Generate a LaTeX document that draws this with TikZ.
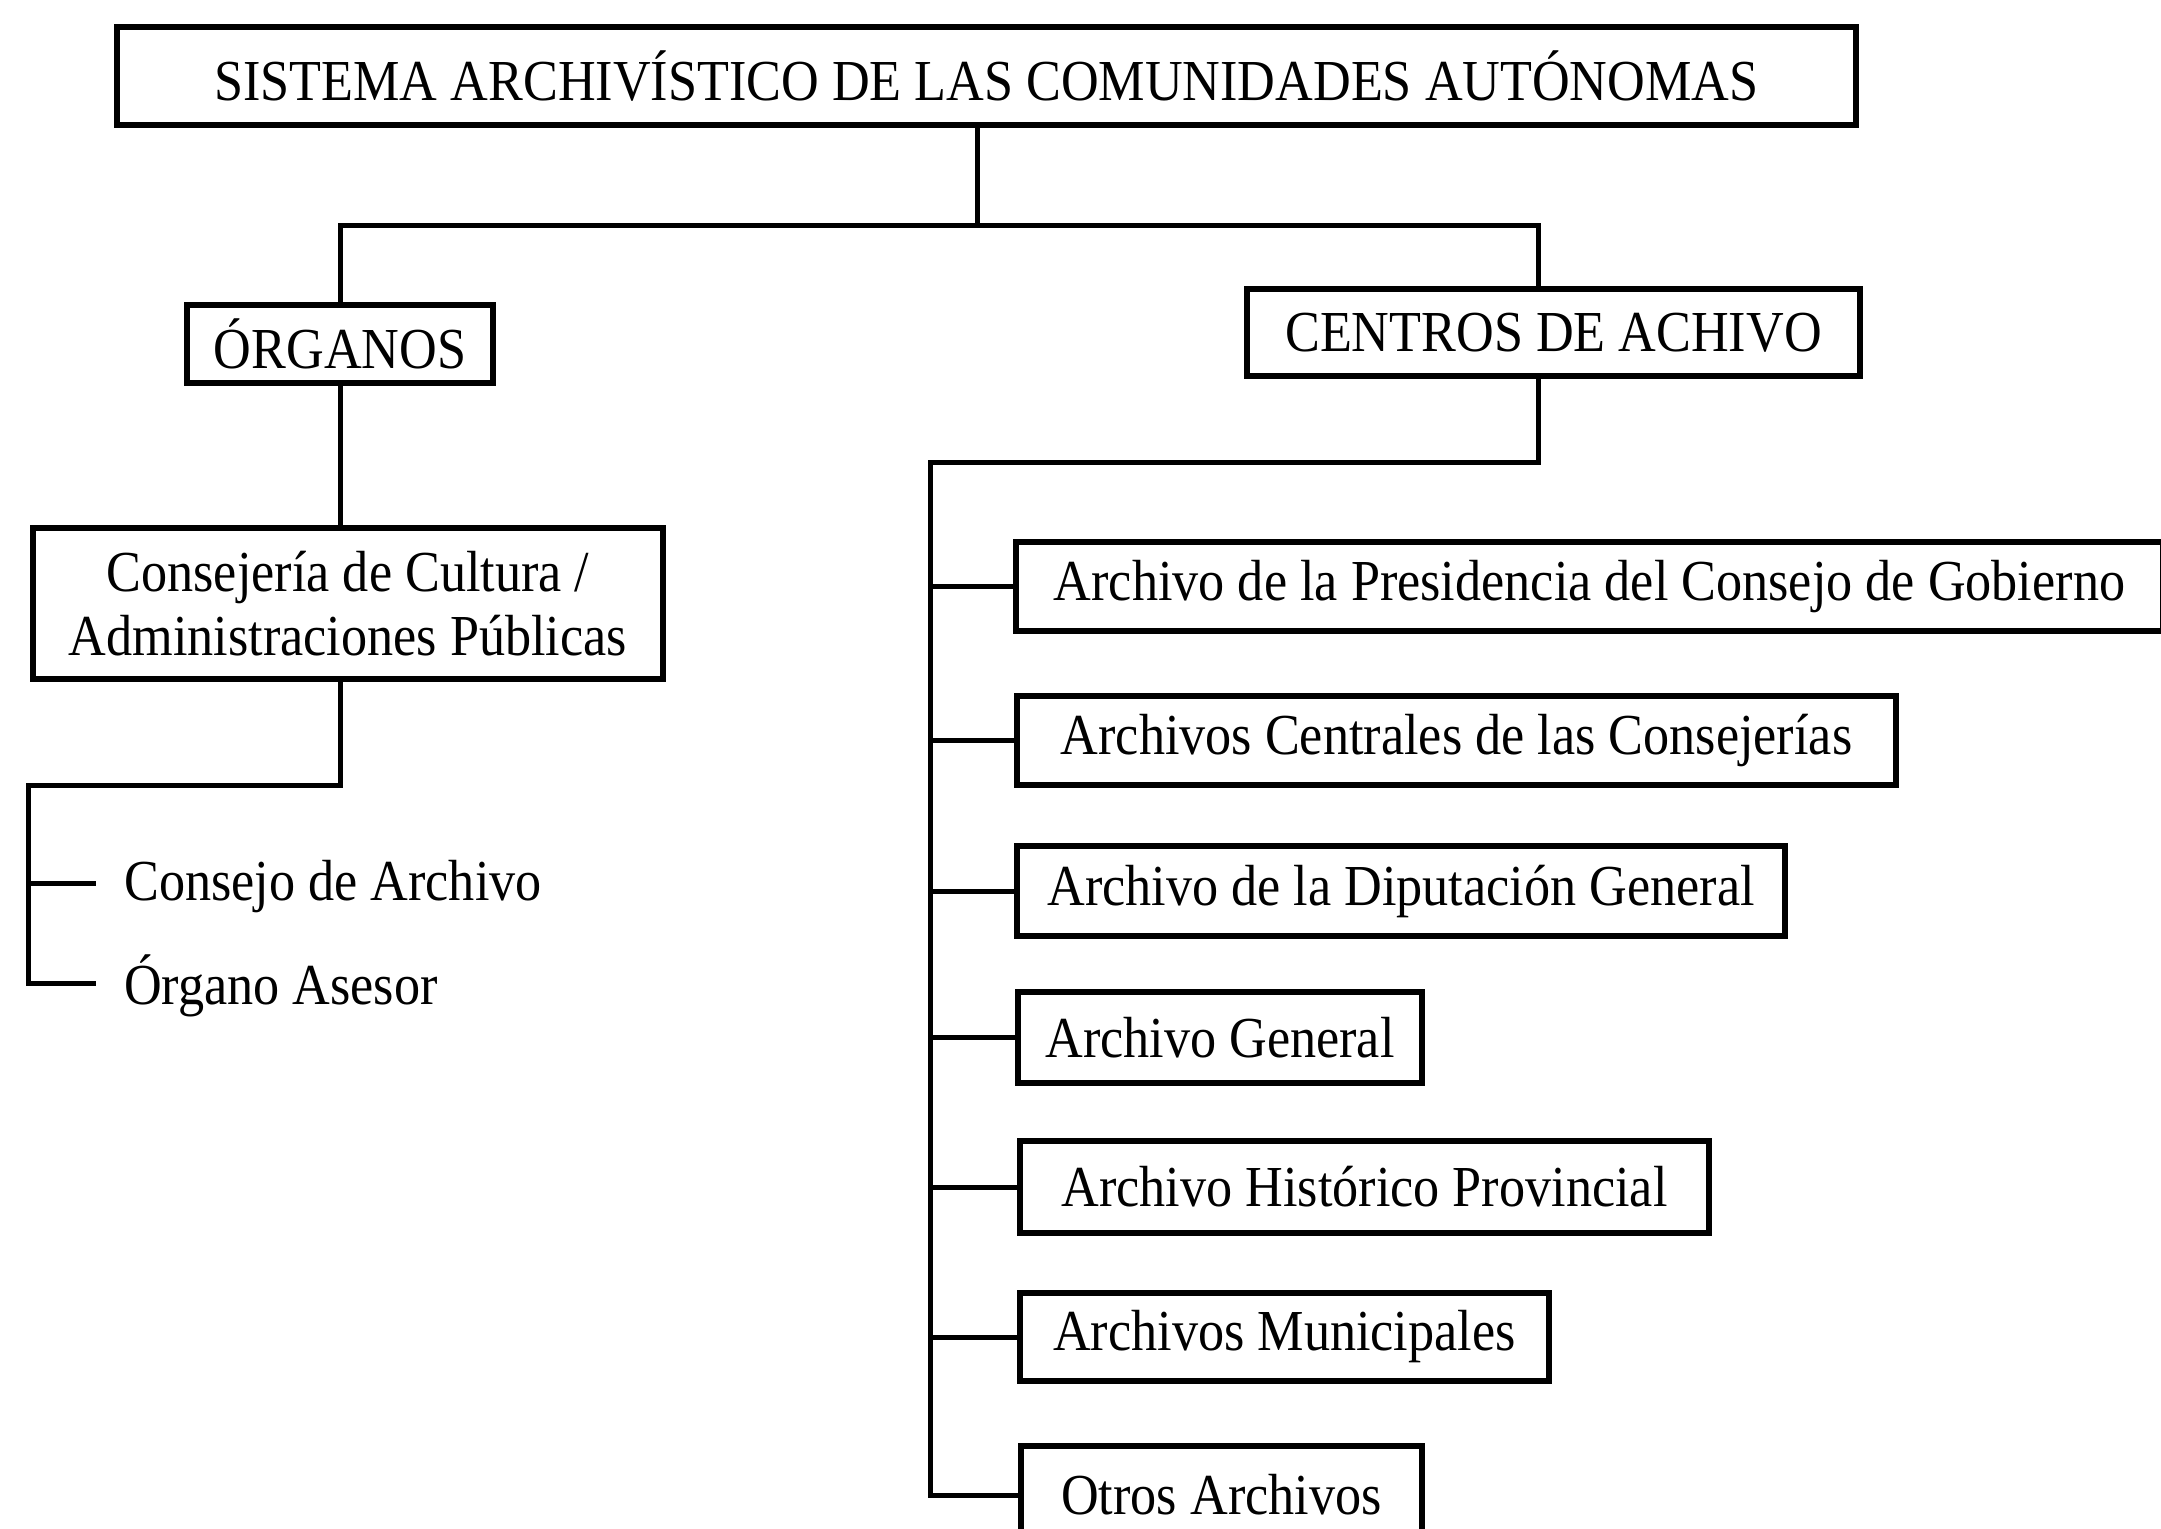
\documentclass[tikz,border=0pt]{standalone}
\usepackage{fontspec}
\setmainfont[FakeStretch=0.9]{Liberation Serif}
\begin{document}
\begin{tikzpicture}[x=1pt,y=-1pt,
  bx/.style={draw, line width=6pt, inner sep=0pt, align=center, font=\fontsize{58}{64}\selectfont},
  ln/.style={line width=5pt},
  lbl/.style={inner sep=0pt, font=\fontsize{58}{64}\selectfont}]
\useasboundingbox (0,0) rectangle (2161,1529);
\fill[white] (0,0) rectangle (2161,1529);
% top level
\node[bx, minimum width=1739pt, minimum height=98pt] (top) at (986.5,76) {SISTEMA ARCHIVÍSTICO DE LAS COMUNIDADES AUTÓNOMAS};
\node[bx, minimum width=306pt, minimum height=78pt] (org) at (340,344) {ÓRGANOS};
\node[bx, minimum width=613pt, minimum height=87pt] (cen) at (1553.5,332.5) {CENTROS DE ACHIVO};
% left branch
\node[bx, minimum width=630pt, minimum height=151pt] (cons) at (348,603.5) {Consejería de Cultura /\\Administraciones Públicas};
\node[lbl, anchor=base west] (cda) at (124,900) {Consejo de Archivo};
\node[lbl, anchor=base west] (oas) at (124,1004) {Órgano Asesor};
% right branch
\node[bx, minimum width=1147pt, minimum height=89pt] (b1) at (1589.5,586.5) {Archivo de la Presidencia del Consejo de Gobierno};
\node[bx, minimum width=879pt, minimum height=89pt] (b2) at (1456.5,740.5) {Archivos Centrales de las Consejerías};
\node[bx, minimum width=768pt, minimum height=90pt] (b3) at (1401,891) {Archivo de la Diputación General};
\node[bx, minimum width=404pt, minimum height=91pt] (b4) at (1220,1037.5) {Archivo General};
\node[bx, minimum width=689pt, minimum height=92pt] (b5) at (1364.5,1187) {Archivo Histórico Provincial};
\node[bx, minimum width=529pt, minimum height=88pt] (b6) at (1284.5,1337) {Archivos Municipales};
\node[bx, minimum width=401pt, minimum height=98pt] (b7) at (1221.5,1495) {Otros Archivos};
% junctions
\coordinate (j0) at (977,225);
\coordinate (jl) at (28,785);
\coordinate (t1) at (96,883);
\coordinate (t2) at (96,983);
\coordinate (jr) at (930,462);
% connectors
\draw[ln] (top.south -| j0) -- (j0);
\draw[ln] (org.north) |- (j0) -| ([xshift=-15.5pt]cen.north);
\draw[ln] (org.south) -- (org.south |- cons.north);
\draw[ln] (cons.south -| org.south) |- (jl) |- (t2);
\draw[ln] (jl |- t1) -- (t1);
\draw[ln] ([xshift=-15.5pt]cen.south) |- (jr) |- (b7.west);
\foreach \b in {b1,b2,b3,b4,b5,b6} \draw[ln] (jr |- \b.west) -- (\b.west);
\end{tikzpicture}
\end{document}
